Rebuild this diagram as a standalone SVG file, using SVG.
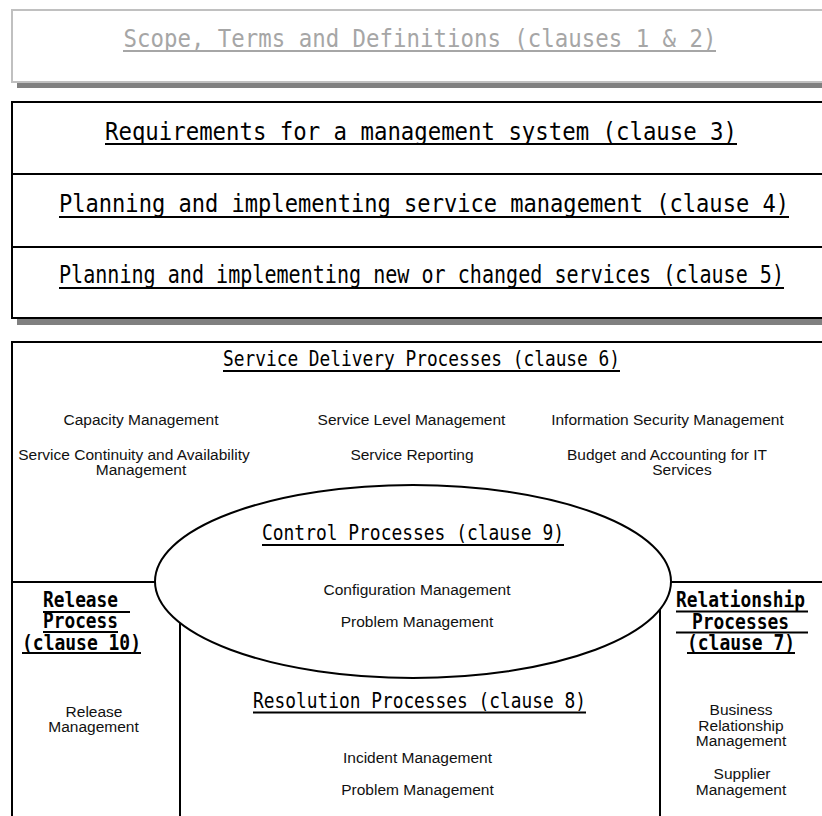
<svg xmlns="http://www.w3.org/2000/svg" width="822" height="816" viewBox="0 0 822 816">
<style>
.m{font-family:"DejaVu Sans Mono","Liberation Mono",monospace;fill:#000;text-anchor:middle}
.bold{font-weight:bold}
.b{font-family:"Liberation Sans",Arial,sans-serif;font-size:15.5px;fill:#111;text-anchor:middle}
.ul{stroke:#000;stroke-width:2}
.box{fill:#fff;stroke:#000;stroke-width:2}
.shadow{fill:#808080}
.div{stroke:#000;stroke-width:2;fill:none}
</style>
<rect width="822" height="816" fill="#fff"/>
<g id="scope">
<rect class="shadow" x="17" y="15" width="830" height="73"/>
<rect x="12" y="10" width="840" height="72" fill="#fff" stroke="#c0c0c0" stroke-width="2"/>
<text class="m" transform="translate(420,47) scale(1,1.15)" style="font-size:22.3px;fill:#a6a6a6" textLength="593" lengthAdjust="spacingAndGlyphs">Scope, Terms and Definitions (clauses 1 &amp; 2)</text>
<line x1="123" y1="51" x2="716" y2="51" stroke="#a6a6a6" stroke-width="2"/>
</g>
<g id="requirements">
<rect class="shadow" x="17" y="107" width="830" height="218"/>
<rect class="box" x="12" y="102" width="840" height="216"/>
<line class="div" x1="12" y1="174" x2="830" y2="174"/>
<line class="div" x1="12" y1="247" x2="830" y2="247"/>
<text class="m" transform="translate(421,139.5) scale(1,1.15)" style="font-size:22.3px" textLength="632" lengthAdjust="spacingAndGlyphs">Requirements for a management system (clause 3)</text>
<line class="ul" x1="105" y1="144" x2="737" y2="144"/>
<text class="m" transform="translate(424,212) scale(1,1.17)" style="font-size:21.6px" textLength="730" lengthAdjust="spacingAndGlyphs">Planning and implementing service management (clause 4)</text>
<line class="ul" x1="59" y1="217" x2="789" y2="217"/>
<text class="m" transform="translate(421.5,283) scale(1,1.25)" style="font-size:20.1px" textLength="725" lengthAdjust="spacingAndGlyphs">Planning and implementing new or changed services (clause 5)</text>
<line class="ul" x1="59" y1="288" x2="784" y2="288"/>
</g>
<g id="service-delivery">
<rect class="box" x="12" y="342" width="840" height="500"/>
<text class="m" transform="translate(421.5,366) scale(1,1.15)" style="font-size:17.8px" textLength="397" lengthAdjust="spacingAndGlyphs">Service Delivery Processes (clause 6)</text>
<line class="ul" x1="223" y1="371" x2="620" y2="371"/>
<text class="b" x="141" y="425">Capacity Management</text>
<text class="b" x="411.5" y="425">Service Level Management</text>
<text class="b" x="667.5" y="425">Information Security Management</text>
<text class="b" x="134" y="460">Service Continuity and Availability</text>
<text class="b" x="141" y="475">Management</text>
<text class="b" x="412" y="460">Service Reporting</text>
<text class="b" x="667" y="460">Budget and Accounting for IT</text>
<text class="b" x="682" y="475">Services</text>
</g>
<g id="connectors">
<line class="div" x1="12" y1="582" x2="830" y2="582"/>
<line class="div" x1="180" y1="582" x2="180" y2="830"/>
<line class="div" x1="660" y1="582" x2="660" y2="830"/>
</g>
<g id="control">
<ellipse cx="413" cy="581.5" rx="258" ry="96.5" fill="#fff" stroke="#000" stroke-width="2"/>
<text class="m" transform="translate(413,540) scale(1,1.15)" style="font-size:17.8px" textLength="302" lengthAdjust="spacingAndGlyphs">Control Processes (clause 9)</text>
<line class="ul" x1="262" y1="545" x2="564" y2="545"/>
<text class="b" x="417" y="595">Configuration Management</text>
<text class="b" x="417" y="627">Problem Management</text>
</g>
<g id="release">
<text class="m bold" transform="translate(80.5,607) scale(1,1.15)" style="font-size:17.8px" textLength="75" lengthAdjust="spacingAndGlyphs">Release</text>
<line class="ul" x1="43" y1="612" x2="130" y2="612"/>
<text class="m bold" transform="translate(80.5,628) scale(1,1.15)" style="font-size:17.8px" textLength="75" lengthAdjust="spacingAndGlyphs">Process</text>
<line class="ul" x1="43" y1="632" x2="118" y2="632"/>
<text class="m bold" transform="translate(81.5,650) scale(1,1.15)" style="font-size:17.8px" textLength="119" lengthAdjust="spacingAndGlyphs">(clause 10)</text>
<line class="ul" x1="22" y1="653" x2="141" y2="653"/>
<text class="b" x="94" y="717">Release</text>
<text class="b" x="93.5" y="732">Management</text>
</g>
<g id="relationship">
<text class="m bold" transform="translate(740.5,607) scale(1,1.15)" style="font-size:17.8px" textLength="129" lengthAdjust="spacingAndGlyphs">Relationship</text>
<line class="ul" x1="676" y1="611.5" x2="808" y2="611.5"/>
<text class="m bold" transform="translate(740.5,629) scale(1,1.15)" style="font-size:17.8px" textLength="97" lengthAdjust="spacingAndGlyphs">Processes</text>
<line class="ul" x1="676" y1="632.5" x2="808" y2="632.5"/>
<text class="m bold" transform="translate(741,650) scale(1,1.15)" style="font-size:17.8px" textLength="108" lengthAdjust="spacingAndGlyphs">(clause 7)</text>
<line class="ul" x1="687" y1="653" x2="795" y2="653"/>
<text class="b" x="741" y="715">Business</text>
<text class="b" x="741" y="731">Relationship</text>
<text class="b" x="741" y="746">Management</text>
<text class="b" x="742" y="779">Supplier</text>
<text class="b" x="741" y="795">Management</text>
</g>
<g id="resolution">
<text class="m" transform="translate(419.5,708) scale(1,1.15)" style="font-size:17.8px" textLength="333" lengthAdjust="spacingAndGlyphs">Resolution Processes (clause 8)</text>
<line class="ul" x1="253" y1="712.5" x2="586" y2="712.5"/>
<text class="b" x="417.5" y="763">Incident Management</text>
<text class="b" x="417.5" y="795">Problem Management</text>
</g>
</svg>
